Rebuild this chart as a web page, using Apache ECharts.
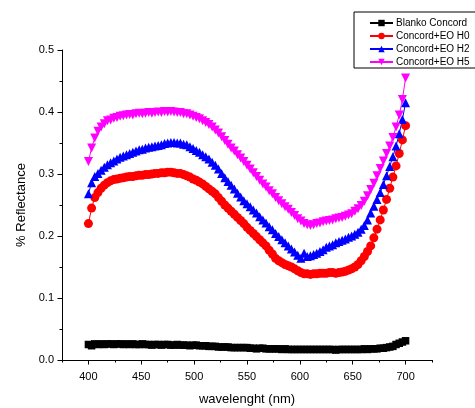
<!DOCTYPE html>
<html>
<head>
<meta charset="utf-8">
<script src="https://cdn.jsdelivr.net/npm/echarts@6/dist/echarts.min.js"></script>
<style>
html,body{margin:0;padding:0;background:#fff;}
#chart{width:475px;height:408px;}
</style>
</head>
<body>
<div id="chart"></div>
<script>
const wavelength = [400,403,406,409,412,415,418,421,424,427,430,433,436,439,442,445,448,451,454,457,460,463,466,469,472,475,478,481,484,487,490,493,496,499,502,505,508,511,514,517,520,523,526,529,532,535,538,541,544,547,550,553,556,559,562,565,568,571,574,577,580,583,586,589,592,595,598,601,604,607,610,613,616,619,622,625,628,631,634,637,640,643,646,649,652,655,658,661,664,667,670,673,676,679,682,685,688,691,694,697,700];

const blanko = [0.025,0.023,0.026,0.025,0.026,0.025,0.026,0.026,0.025,0.026,0.026,0.025,0.026,0.025,0.026,0.025,0.025,0.026,0.025,0.025,0.024,0.025,0.025,0.024,0.025,0.025,0.024,0.024,0.025,0.024,0.024,0.024,0.023,0.024,0.024,0.023,0.023,0.023,0.022,0.022,0.022,0.021,0.021,0.021,0.021,0.020,0.020,0.020,0.020,0.020,0.020,0.019,0.019,0.018,0.019,0.019,0.018,0.018,0.018,0.018,0.018,0.017,0.018,0.017,0.017,0.017,0.017,0.017,0.017,0.017,0.017,0.017,0.017,0.017,0.017,0.017,0.017,0.017,0.016,0.017,0.017,0.017,0.017,0.017,0.017,0.017,0.017,0.018,0.017,0.018,0.018,0.018,0.019,0.019,0.020,0.021,0.022,0.025,0.027,0.029,0.031];

const h0 = [0.220,0.245,0.262,0.270,0.277,0.282,0.286,0.289,0.291,0.292,0.293,0.294,0.295,0.296,0.296,0.297,0.298,0.298,0.299,0.299,0.300,0.301,0.301,0.302,0.302,0.303,0.303,0.302,0.301,0.301,0.299,0.297,0.295,0.292,0.290,0.287,0.284,0.280,0.276,0.272,0.268,0.262,0.256,0.250,0.245,0.240,0.235,0.230,0.225,0.220,0.214,0.209,0.204,0.199,0.194,0.189,0.184,0.177,0.171,0.164,0.160,0.157,0.154,0.152,0.150,0.147,0.144,0.141,0.139,0.139,0.138,0.139,0.139,0.140,0.140,0.140,0.141,0.141,0.140,0.141,0.142,0.143,0.145,0.147,0.150,0.154,0.160,0.167,0.175,0.184,0.197,0.211,0.226,0.242,0.259,0.277,0.295,0.313,0.333,0.355,0.378];

const h2 = [0.268,0.286,0.296,0.301,0.306,0.311,0.315,0.318,0.321,0.324,0.327,0.329,0.331,0.333,0.335,0.337,0.339,0.340,0.342,0.343,0.344,0.345,0.346,0.347,0.349,0.350,0.351,0.351,0.350,0.350,0.348,0.347,0.344,0.341,0.338,0.335,0.331,0.328,0.324,0.319,0.314,0.308,0.301,0.294,0.288,0.282,0.276,0.269,0.263,0.257,0.252,0.247,0.242,0.237,0.231,0.226,0.221,0.215,0.210,0.204,0.199,0.194,0.189,0.184,0.179,0.174,0.169,0.164,0.172,0.167,0.168,0.170,0.172,0.175,0.178,0.182,0.184,0.186,0.189,0.191,0.193,0.195,0.198,0.200,0.203,0.206,0.211,0.217,0.226,0.237,0.248,0.259,0.270,0.283,0.297,0.312,0.328,0.345,0.365,0.388,0.415];

const h5 = [0.320,0.342,0.358,0.369,0.376,0.381,0.386,0.387,0.390,0.391,0.393,0.394,0.395,0.396,0.395,0.397,0.398,0.397,0.398,0.399,0.398,0.399,0.400,0.399,0.401,0.400,0.401,0.400,0.399,0.399,0.397,0.397,0.395,0.393,0.391,0.389,0.386,0.383,0.380,0.376,0.371,0.366,0.360,0.354,0.348,0.342,0.337,0.331,0.326,0.320,0.314,0.308,0.302,0.296,0.290,0.284,0.279,0.273,0.268,0.262,0.257,0.252,0.247,0.243,0.238,0.233,0.228,0.224,0.220,0.218,0.217,0.218,0.220,0.221,0.223,0.224,0.225,0.226,0.228,0.229,0.230,0.232,0.234,0.236,0.240,0.244,0.249,0.256,0.265,0.275,0.285,0.297,0.309,0.321,0.333,0.345,0.359,0.376,0.395,0.420,0.455];

const seriesNames = ['Blanko Concord','Concord+EO H0','Concord+EO H2','Concord+EO H5'];
const xMajorTicks = [400,450,500,550,600,650,700];

function pairs(arr){ return wavelength.map((w,i)=>[w,arr[i]]); }

const chart = echarts.init(document.getElementById('chart'));
const font = 'Liberation Sans, Arial, sans-serif';
function mk(name, data, color, symbol, size, rot){
  return {
    name: name, type: 'line', data: pairs(data),
    symbol: symbol, symbolSize: size, symbolRotate: rot || 0,
    showAllSymbol: true,
    itemStyle: {color: color},
    lineStyle: {color: color, width: 1},
    xAxisIndex: 0, yAxisIndex: 0,
    z: 3
  };
}
chart.setOption({
  animation: false,
  backgroundColor: '#fff',
  grid: {left: 62, right: 43, top: 50, bottom: 48, containLabel: false, outerBoundsMode: 'none'},
  legend: {
    orient: 'vertical', left: 354, top: 12,
    padding: [6, 9, 1, 15],
    itemWidth: 23, itemHeight: 8, itemGap: 3,
    borderColor: '#000', borderWidth: 1, backgroundColor: '#fff',
    textStyle: {fontSize: 10, color: '#000', fontFamily: font, padding: [0,0,0,-2]},
    data: seriesNames
  },
  xAxis: [{
    type: 'value', min: 375, max: 725, interval: 25,
    name: 'wavelenght (nm)', nameLocation: 'middle', nameGap: 33,
    nameTextStyle: {fontSize: 13, color: '#000', fontFamily: font},
    axisLine: {show: true, lineStyle: {color: '#000', width: 1}},
    axisTick: {show: true, inside: false, length: 2.5, lineStyle: {color: '#000'}},
    axisLabel: {show: true, color: '#000', fontSize: 11, fontFamily: font, margin: 11,
      formatter: v => (v % 50 === 0 ? String(v) : '')},
    splitLine: {show: false}
  },{
    type: 'value', min: 375, max: 725, position: 'bottom',
    axisLine: {show: false},
    axisTick: {show: true, length: 4.5, customValues: xMajorTicks, lineStyle: {color: '#000'}},
    axisLabel: {show: false},
    splitLine: {show: false}
  }],
  yAxis: [{
    type: 'value', min: 0, max: 0.5, interval: 0.1,
    name: '% Reflectance', nameLocation: 'middle', nameGap: 34, nameRotate: 90,
    nameTextStyle: {fontSize: 13, color: '#000', fontFamily: font},
    axisLine: {show: true, lineStyle: {color: '#000', width: 1}},
    axisTick: {show: true, inside: false, length: 4.5, lineStyle: {color: '#000'}},
    minorTick: {show: true, splitNumber: 2, length: 2.5, lineStyle: {color: '#000'}},
    axisLabel: {color: '#000', fontSize: 11, fontFamily: font, margin: 8,
      formatter: v => v.toFixed(1)},
    splitLine: {show: false}, minorSplitLine: {show: false}
  }],
  series: [
    mk(seriesNames[0], blanko, '#000000', 'rect', 7.5),
    mk(seriesNames[1], h0, '#ff0000', 'circle', 9),
    mk(seriesNames[2], h2, '#0000ff', 'triangle', 9),
    mk(seriesNames[3], h5, '#ff00ff', 'triangle', 9, 180)
  ]
});
</script>
</body>
</html>
